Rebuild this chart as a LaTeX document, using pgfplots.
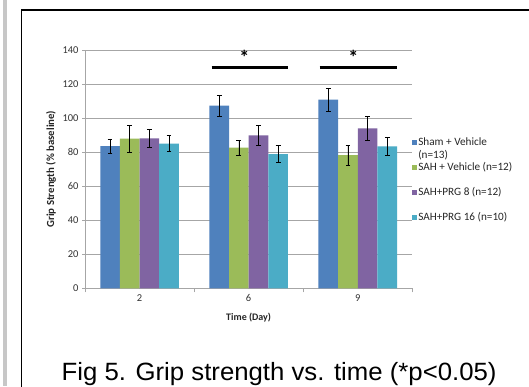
\documentclass[border=0pt]{standalone}
\usepackage{pgfplots}
\pgfplotsset{compat=1.18}
\usepackage{fontspec}
\setmainfont{Carlito}
\newfontfamily\capfont{Liberation Sans}
\definecolor{cblue}{HTML}{4F81BD}
\definecolor{cgreen}{HTML}{9BBB59}
\definecolor{cpurple}{HTML}{8064A2}
\definecolor{ccyan}{HTML}{4BACC6}
\definecolor{gridc}{HTML}{A6A6A6}
\begin{document}
\begin{tikzpicture}[x=1pt,y=1pt]
\useasboundingbox (0,0) rectangle (529,386);
\fill[white] (0,0) rectangle (529,386);
\fill[black!22] (3,0) rectangle (6.5,386);
\draw[black, line width=1.4pt] (21.5,-2) -- (21.5,376) -- (531,376);
\node[anchor=base west, inner sep=0pt, xscale=1.03, font=\capfont\fontsize{25}{28}\selectfont] at (61.5,5.3) {Fig 5. Grip strength vs. time (*p<0.05)};
\begin{axis}[
  at={(85pt,97.7pt)}, anchor=south west,
  scale only axis, width=327.3pt, height=238.3pt,
  xmin=-0.5, xmax=2.5, ymin=0, ymax=140,
  clip=false,
  axis x line=bottom, axis y line=left,
  axis line style={-, gridc, line width=0.7pt},
  xtick={0,1,2}, xticklabels={2,6,9},
  major x tick style={draw=none},
  minor xtick={-0.5,0.5,1.5,2.5},
  minor tick length=4pt,
  ytick={0,20,...,140},
  major tick length=3pt,
  tick align=outside,
  tick style={gridc, line width=0.7pt},
  ymajorgrids,
  grid style={gridc, line width=0.7pt},
  /pgf/number format/assume math mode=true,
  tick label style={font=\fontsize{10.5}{12}\selectfont, black!80},
  xlabel={\textbf{Time (Day)}},
  ylabel={\textbf{Grip Strength (\% baseline)}},
  xlabel style={font=\fontsize{10}{12}\selectfont, black!85, at={(axis description cs:0.5,-0.1246)}, anchor=center},
  ylabel style={font=\fontsize{10.8}{12}\selectfont, black!85, at={(axis description cs:-0.104,0.5)}, anchor=center},
  legend style={at={(axis description cs:1.0,0.633)}, anchor=north west,
    draw=none, fill=none, inner sep=0pt, outer sep=0pt,
    font=\fontsize{11.2}{13}\selectfont, text=black!85,
    row sep=14pt,
    nodes={text height=7pt, text depth=2pt, inner sep=1pt}},
  legend cell align=left,
  legend image code/.code={\fill[#1] (0pt,-2.5pt) rectangle (5pt,2.5pt);},
]
\addplot[ybar, bar width=0.18, bar shift=0, fill=cblue, draw=none,
  error bars/.cd, y dir=both, y explicit,
  error bar style={black, line width=0.6pt},
  error mark options={rotate=90, mark size=2.4pt, black, line width=0.6pt}] coordinates {
  (-0.27,83.6) +- (0,4.2)
  (0.73,107.3) +- (0,6.1)
  (1.73,110.8) +- (0,6.6)
};
\addlegendentry{\smash{\begin{tabular}[t]{@{}l@{}}Sham + Vehicle\\(n=13)\end{tabular}}}
\addplot[ybar, bar width=0.18, bar shift=0, fill=cgreen, draw=none,
  error bars/.cd, y dir=both, y explicit,
  error bar style={black, line width=0.6pt},
  error mark options={rotate=90, mark size=2.4pt, black, line width=0.6pt}] coordinates {
  (-0.09,87.9) +- (0,8.0)
  (0.91,82.6) +- (0,4.5)
  (1.91,78.3) +- (0,5.8)
};
\addlegendentry{SAH + Vehicle (n=12)}
\addplot[ybar, bar width=0.18, bar shift=0, fill=cpurple, draw=none,
  error bars/.cd, y dir=both, y explicit,
  error bar style={black, line width=0.6pt},
  error mark options={rotate=90, mark size=2.4pt, black, line width=0.6pt}] coordinates {
  (0.09,88.1) +- (0,5.1)
  (1.09,89.9) +- (0,5.6)
  (2.09,94.0) +- (0,7.0)
};
\addlegendentry{SAH+PRG 8 (n=12)}
\addplot[ybar, bar width=0.18, bar shift=0, fill=ccyan, draw=none,
  error bars/.cd, y dir=both, y explicit,
  error bar style={black, line width=0.6pt},
  error mark options={rotate=90, mark size=2.4pt, black, line width=0.6pt}] coordinates {
  (0.27,85.0) +- (0,4.6)
  (1.27,78.9) +- (0,5.1)
  (2.27,83.4) +- (0,5.4)
};
\addlegendentry{SAH+PRG 16 (n=10)}
\addplot[black, line width=3pt, forget plot] coordinates {(0.66,129.8) (1.36,129.8)};
\addplot[black, line width=3pt, forget plot] coordinates {(1.65,129.8) (2.36,129.8)};
\node[font=\bfseries\fontsize{20}{20}\selectfont, inner sep=0pt] at (axis cs:0.96,135.5) {*};
\node[font=\bfseries\fontsize{20}{20}\selectfont, inner sep=0pt] at (axis cs:1.96,135.5) {*};
\end{axis}
\end{tikzpicture}
\end{document}
